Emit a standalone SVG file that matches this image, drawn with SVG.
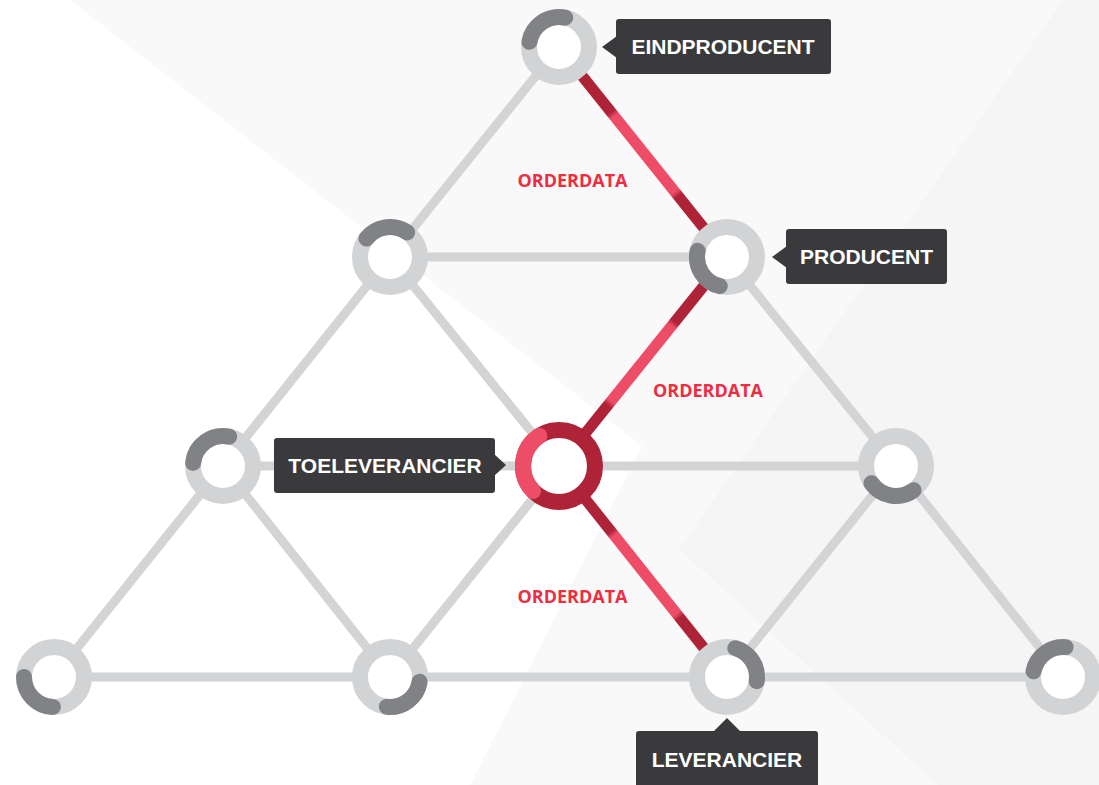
<svg xmlns="http://www.w3.org/2000/svg" width="1099" height="785" viewBox="0 0 1099 785">
<style>
.edge{stroke:#d3d4d6;stroke-width:9;fill:none}
.red{stroke-width:11;fill:none}
.ring{fill:#fff;stroke:#d1d3d4;stroke-width:16}
.arc{fill:none;stroke:#808285;stroke-width:16;stroke-linecap:round}
.tag{fill:#3a3a3c}
.tagtext{font-family:"Liberation Sans",Arial,sans-serif;font-weight:bold;font-size:21px;fill:#fff;text-anchor:middle}
.od{font-family:"Open Sans","Liberation Sans",sans-serif;font-weight:bold;font-size:18px;fill:#ee2d43;text-anchor:middle}
</style>
<defs>
<linearGradient id="g1" gradientUnits="userSpaceOnUse" x1="559" y1="47" x2="727" y2="257">
<stop offset="0" stop-color="#ae2338"/><stop offset="0.31" stop-color="#ae2338"/><stop offset="0.33" stop-color="#ee4d67"/><stop offset="0.69" stop-color="#ee4d67"/><stop offset="0.71" stop-color="#ae2338"/><stop offset="1" stop-color="#ae2338"/>
</linearGradient>
<linearGradient id="g2" gradientUnits="userSpaceOnUse" x1="727" y1="257" x2="559" y2="466">
<stop offset="0" stop-color="#ae2338"/><stop offset="0.31" stop-color="#ae2338"/><stop offset="0.33" stop-color="#ee4d67"/><stop offset="0.69" stop-color="#ee4d67"/><stop offset="0.71" stop-color="#ae2338"/><stop offset="1" stop-color="#ae2338"/>
</linearGradient>
<linearGradient id="g3" gradientUnits="userSpaceOnUse" x1="559" y1="466" x2="727" y2="677">
<stop offset="0" stop-color="#ae2338"/><stop offset="0.31" stop-color="#ae2338"/><stop offset="0.33" stop-color="#ee4d67"/><stop offset="0.70" stop-color="#ee4d67"/><stop offset="0.72" stop-color="#ae2338"/><stop offset="1" stop-color="#ae2338"/>
</linearGradient>
</defs>
<g id="background">
<rect x="0" y="0" width="1099" height="785" fill="#ffffff"/>
<polygon points="70,0 1099,0 1099,785 470,785 642,446" fill="#f9f9f9"/>
<polygon points="1063,0 1099,0 1099,785 938,785 679,549" fill="#f5f5f5"/>
</g>
<g id="connectors">
<line class="edge" x1="559" y1="47" x2="390" y2="257"/>
<line class="edge" x1="390" y1="257" x2="727" y2="257"/>
<line class="edge" x1="390" y1="257" x2="223" y2="466"/>
<line class="edge" x1="390" y1="257" x2="559" y2="466"/>
<line class="edge" x1="727" y1="257" x2="896" y2="466"/>
<line class="edge" x1="223" y1="466" x2="559" y2="466"/>
<line class="edge" x1="559" y1="466" x2="896" y2="466"/>
<line class="edge" x1="223" y1="466" x2="54" y2="677"/>
<line class="edge" x1="223" y1="466" x2="390" y2="677"/>
<line class="edge" x1="559" y1="466" x2="390" y2="677"/>
<line class="edge" x1="896" y1="466" x2="727" y2="677"/>
<line class="edge" x1="896" y1="466" x2="1063" y2="677"/>
<line class="edge" x1="54" y1="677" x2="1063" y2="677"/>
<line class="red" stroke="url(#g1)" x1="559" y1="47" x2="727" y2="257"/>
<line class="red" stroke="url(#g2)" x1="727" y1="257" x2="559" y2="466"/>
<line class="red" stroke="url(#g3)" x1="559" y1="466" x2="727" y2="677"/>
</g>
<g id="node-eindproducent">
<circle class="ring" cx="559" cy="47" r="30"/>
<path class="arc" d="M529.46,41.79 A30,30 0 0 1 565.24,17.66"/>
<rect class="tag" x="616" y="19" width="215" height="55" rx="3"/>
<polygon class="tag" points="617,36 602,47 617,58"/>
<text class="tagtext" x="723" y="54">EINDPRODUCENT</text>
</g>
<g id="node-r2-left">
<circle class="ring" cx="390" cy="257" r="30"/>
<path class="arc" d="M366.36,238.53 A30,30 0 0 1 407.21,232.42"/>
</g>
<g id="node-producent">
<circle class="ring" cx="727" cy="257" r="30"/>
<path class="arc" d="M719.74,286.11 A30,30 0 0 1 697.66,250.76"/>
<rect class="tag" x="786" y="229" width="161" height="55" rx="3"/>
<polygon class="tag" points="787,246 772,257 787,268"/>
<text class="tagtext" x="866.5" y="264">PRODUCENT</text>
</g>
<g id="node-r3-left">
<circle class="ring" cx="223" cy="466" r="30"/>
<path class="arc" d="M193.16,462.86 A30,30 0 0 1 229.24,436.66"/>
</g>
<g id="node-toeleverancier">
<circle cx="559" cy="466" r="36" fill="#fff" stroke="#ae2338" stroke-width="16"/>
<path d="M533.11,491.01 A36,36 0 0 1 539.39,435.81" fill="none" stroke="#ee4d67" stroke-width="16" stroke-linecap="round"/>
<rect class="tag" x="274" y="438" width="221" height="55" rx="3"/>
<polygon class="tag" points="494,454 506,465 494,476"/>
<text class="tagtext" x="385" y="473">TOELEVERANCIER</text>
</g>
<g id="node-r3-right">
<circle class="ring" cx="896" cy="466" r="30"/>
<path class="arc" d="M913.63,490.27 A30,30 0 0 1 871.42,483.21"/>
</g>
<g id="node-b1">
<circle class="ring" cx="54" cy="677" r="30"/>
<path class="arc" d="M52.95,706.98 A30,30 0 0 1 24,677"/>
</g>
<g id="node-b2">
<circle class="ring" cx="390" cy="677" r="30"/>
<path class="arc" d="M419.63,681.69 A30,30 0 0 1 386.86,706.84"/>
</g>
<g id="node-leverancier">
<circle class="ring" cx="727" cy="677" r="30"/>
<path class="arc" d="M735.27,648.16 A30,30 0 0 1 756.71,681.18"/>
<rect class="tag" x="636" y="731" width="182" height="60" rx="3"/>
<polygon class="tag" points="713,732 727,718 741,732"/>
<text class="tagtext" x="727" y="767">LEVERANCIER</text>
</g>
<g id="node-b4">
<circle class="ring" cx="1063" cy="677" r="30"/>
<path class="arc" d="M1033.55,671.28 A30,30 0 0 1 1065.62,647.11"/>
</g>
<g id="labels">
<text class="od" x="572.5" y="187">ORDERDATA</text>
<text class="od" x="708" y="397">ORDERDATA</text>
<text class="od" x="572.5" y="603">ORDERDATA</text>
</g>
</svg>
